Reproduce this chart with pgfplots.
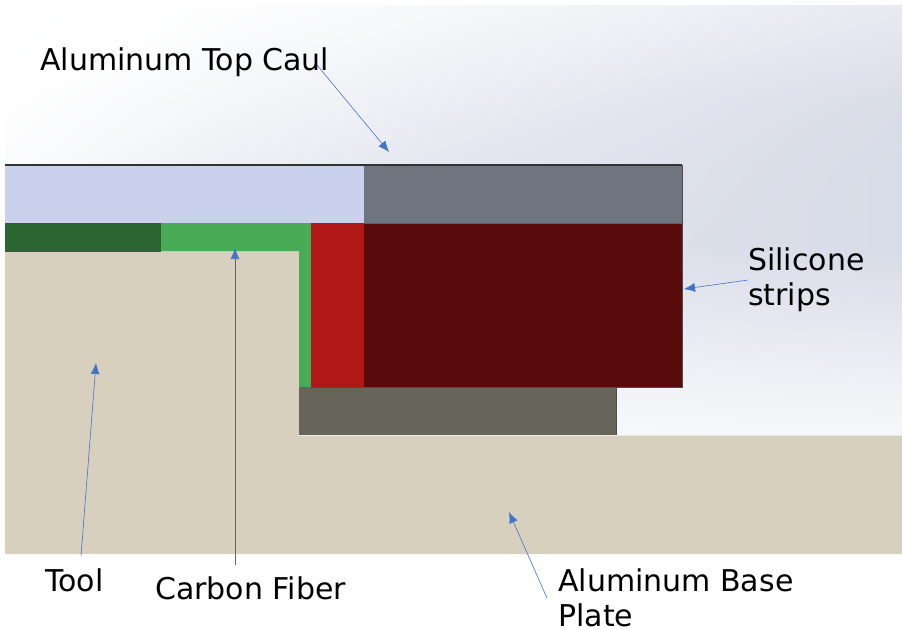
\documentclass[border=0pt]{standalone}
\usepackage{pgfplots}
\pgfplotsset{compat=1.18}
\usepackage{fontspec}
\setmainfont{DejaVu Sans}
\usetikzlibrary{arrows.meta}

\definecolor{caulL}{RGB}{201,209,237}
\definecolor{caulD}{RGB}{111,117,128}
\definecolor{cfD}{RGB}{43,102,50}
\definecolor{cfL}{RGB}{74,171,87}
\definecolor{siL}{RGB}{176,24,24}
\definecolor{siD}{RGB}{89,11,11}
\definecolor{baseD}{RGB}{103,100,90}
\definecolor{basetan}{RGB}{215,208,191}
\definecolor{arrowblue}{RGB}{68,114,196}

\pgfplotsset{
  part/.style={draw=none, fill=#1},
  lead/.style={arrowblue, line width=0.6pt, -{Latex[length=11pt,width=9pt]}},
}
\tikzset{lbl/.style={anchor=base west, font=\fontsize{30}{34}\selectfont, inner sep=0pt}}

\begin{document}
\begin{tikzpicture}
\begin{axis}[
  scale only axis,
  width=902pt, height=629pt,
  xmin=0, xmax=902, ymin=0, ymax=629,
  y dir=reverse,
  hide axis,
  colormap={bg}{rgb255=(255,255,255) rgb255=(216,220,232)},
  point meta min=0, point meta max=1,
]
% page
\addplot[part=white] coordinates {(0,0) (902,0) (902,629) (0,629)} -- cycle;
% background gradient
\addplot[surf, shader=interp, mesh/cols=5, point meta=explicit] table[meta=c] {
x y c
5 5 0
230 5 0.05
450 5 0.2
680 5 0.4
902 5 0.6
5 100 0.02
230 100 0.25
450 100 0.5
680 100 0.75
902 100 0.95
5 165 0.1
230 165 0.45
450 165 0.7
680 165 0.85
902 165 1
5 250 0.3
230 250 0.55
450 250 0.75
680 250 0.9
902 250 1
5 388 0.2
230 388 0.25
450 388 0.3
680 388 0.35
902 388 0.4
5 436 0.12
230 436 0.12
450 436 0.15
680 436 0.2
902 436 0.22
};
% base plate and tool
\addplot[part=basetan] coordinates {(5,251) (299,251) (299,435.5) (902,435.5) (902,554) (5,554)} -- cycle;
% top caul
\addplot[part=caulL] coordinates {(5,165) (364,165) (364,223) (5,223)} -- cycle;
\addplot[part=caulD] coordinates {(364,165) (682,165) (682,223) (364,223)} -- cycle;
% carbon fiber
\addplot[part=cfD] coordinates {(5,223) (161,223) (161,251) (5,251)} -- cycle;
\addplot[part=cfL] coordinates {(161,223) (311,223) (311,387) (299,387) (299,251) (161,251)} -- cycle;
% silicone
\addplot[part=siL] coordinates {(311,223) (364,223) (364,387) (311,387)} -- cycle;
\addplot[part=siD] coordinates {(364,223) (682,223) (682,387) (364,387)} -- cycle;
% lower block
\addplot[part=baseD] coordinates {(299,387) (616,387) (616,435) (299,435)} -- cycle;
% edges
\addplot[black!80, line width=1.2pt] coordinates {(5,165) (682,165)};
\addplot[black!70, line width=0.7pt] coordinates {(682,165) (682,387) (311,387)};
\addplot[black!70, line width=0.7pt] coordinates {(616,387) (616,435)};
\addplot[caulD!80!black, line width=0.7pt] coordinates {(364,223) (682,223)};
\addplot[black!70, line width=0.7pt] coordinates {(5,223.5) (161,223.5)};
\addplot[black!70, line width=0.7pt] coordinates {(5,251) (161,251)};
% leaders
\addplot[lead] coordinates {(317,65) (389,152)};
\addplot[lead] coordinates {(748,280) (684,289)};
\addplot[lead] coordinates {(81,556) (96,363)};
\addplot[lead] coordinates {(547,598) (509,512)};
\addplot[black!60, line width=0.5pt] coordinates {(235,565) (235,255)};
\addplot[lead] coordinates {(235,258) (235,248)};
% labels
\node[lbl] at (axis cs:40,70) {Aluminum Top Caul};
\node[lbl] at (axis cs:748,270) {Silicone};
\node[lbl] at (axis cs:748,305) {strips};
\node[lbl] at (axis cs:45,591) {Tool};
\node[lbl] at (axis cs:155,599) {Carbon Fiber};
\node[lbl] at (axis cs:558,591) {Aluminum Base};
\node[lbl] at (axis cs:558,626) {Plate};
\end{axis}
\end{tikzpicture}
\end{document}
